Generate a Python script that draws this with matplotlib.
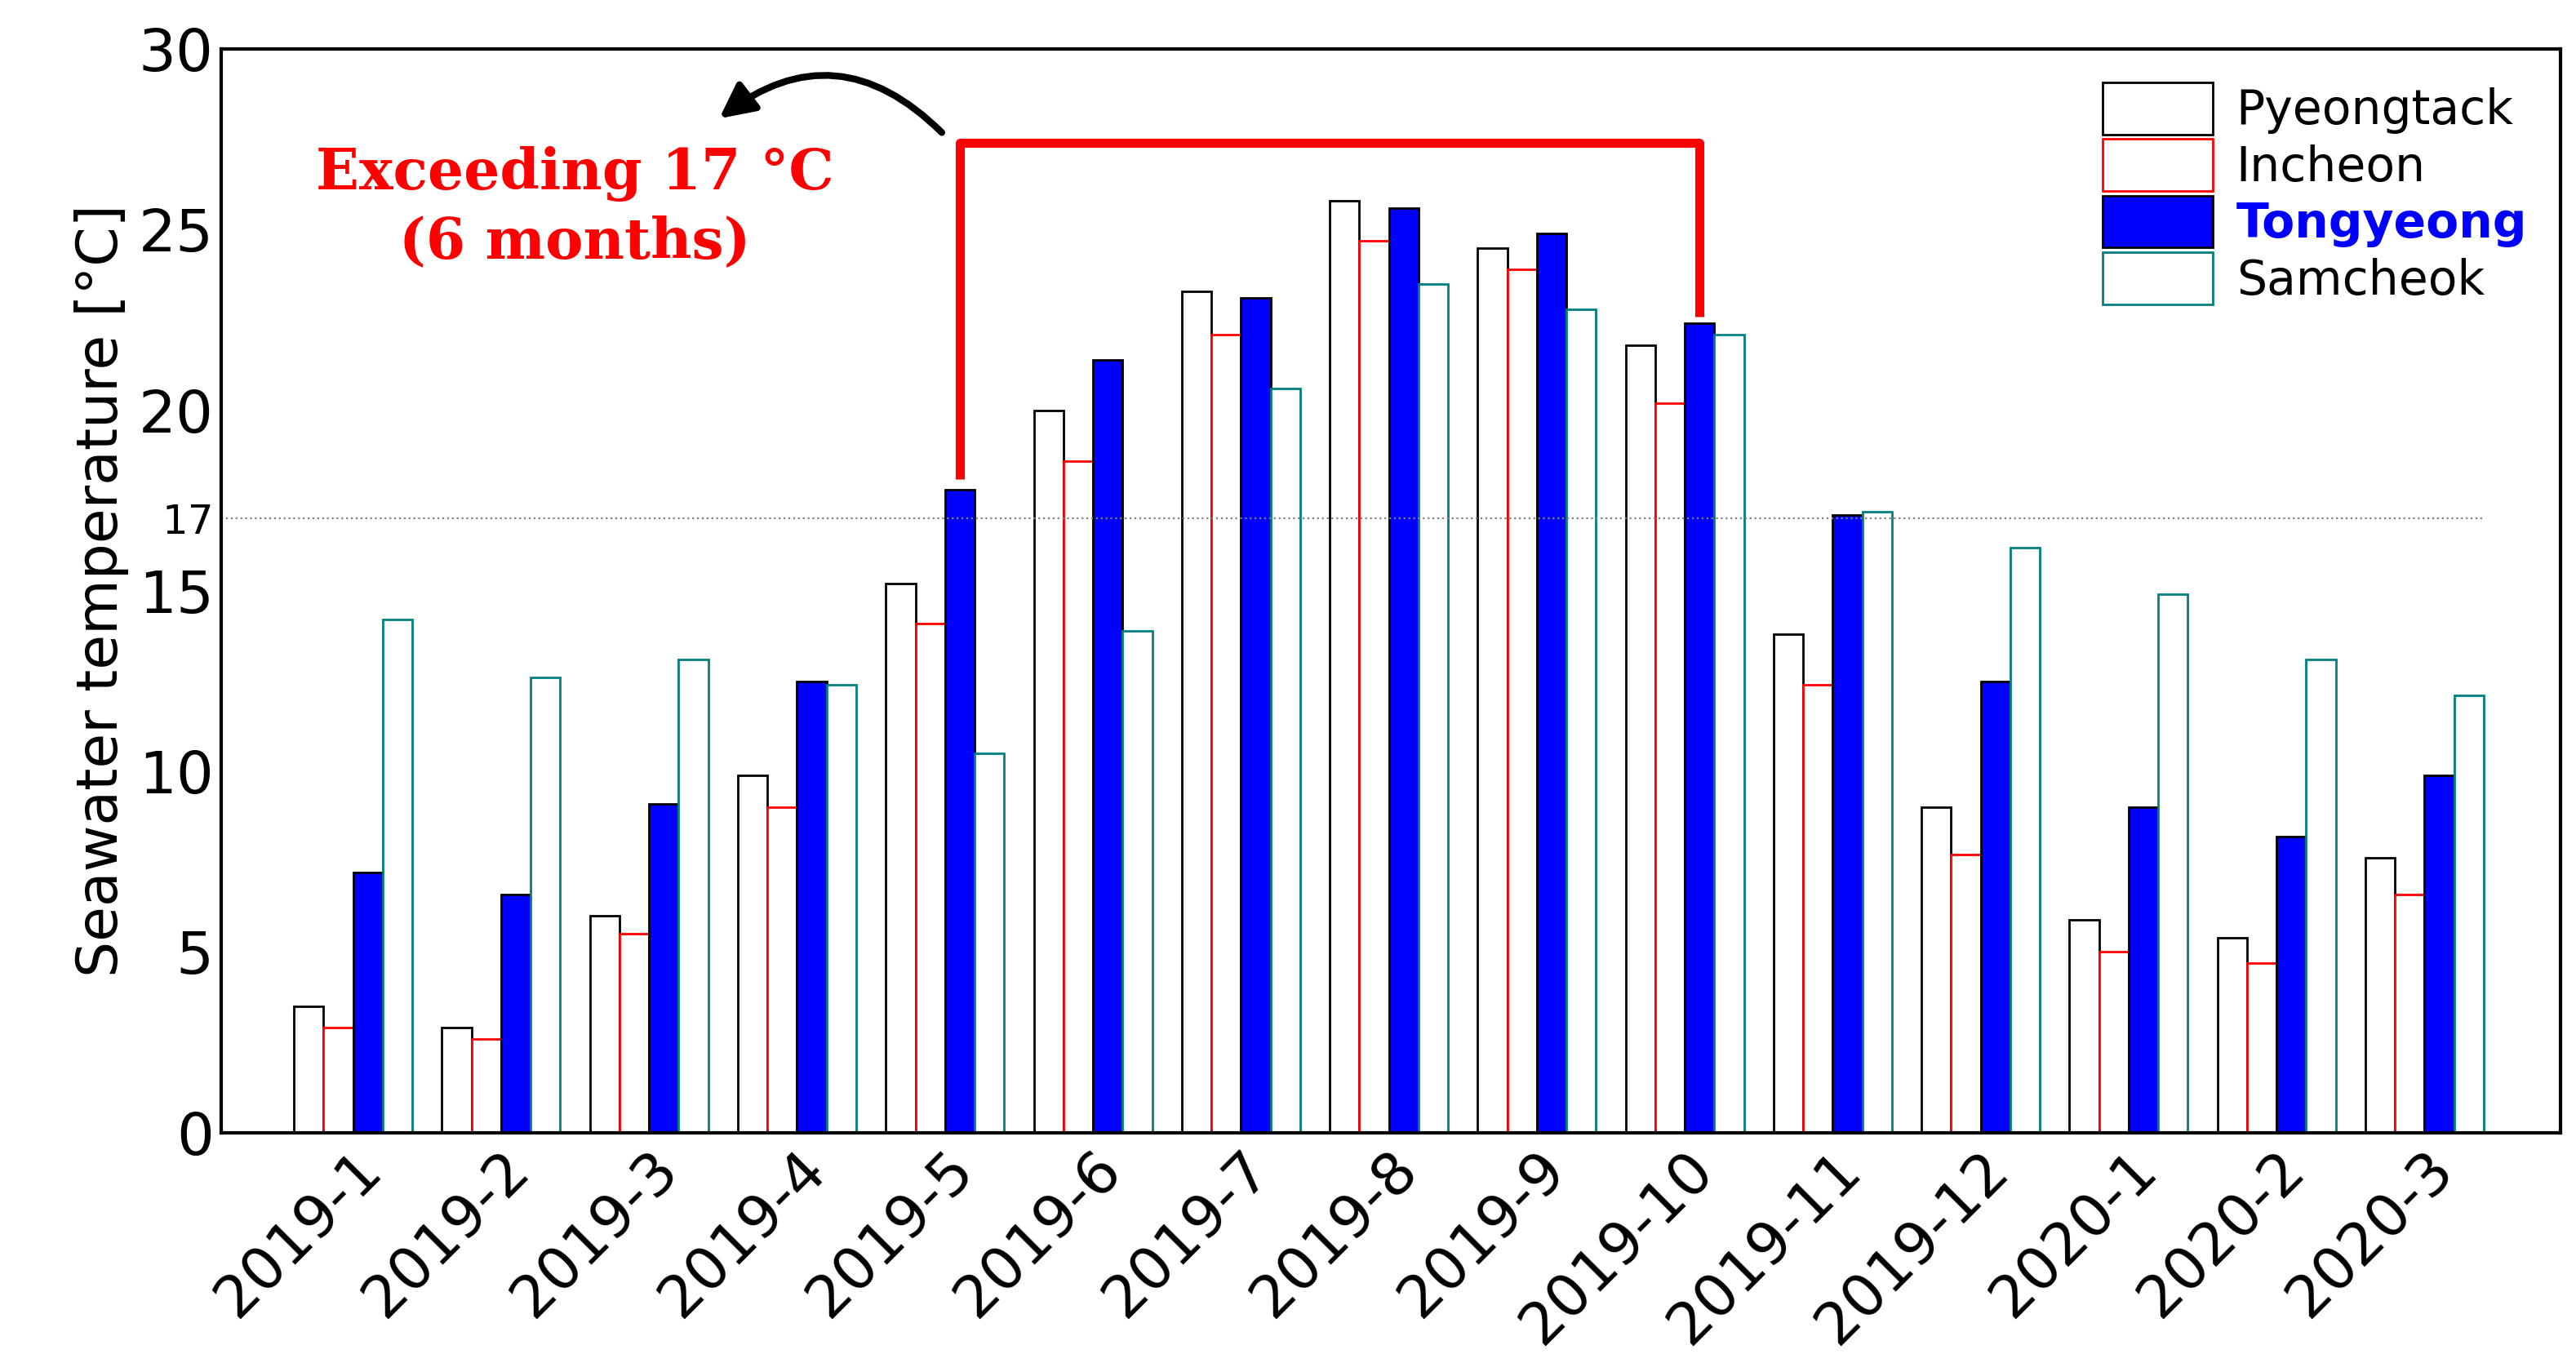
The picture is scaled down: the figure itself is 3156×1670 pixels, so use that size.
import numpy as np
import matplotlib.pyplot as plt

months = ["2019-1", "2019-2", "2019-3", "2019-4", "2019-5", "2019-6", "2019-7", "2019-8",
          "2019-9", "2019-10", "2019-11", "2019-12", "2020-1", "2020-2", "2020-3"]
pyeongtack = [3.5, 2.9, 6.0, 9.9, 15.2, 20.0, 23.3, 25.8, 24.5, 21.8, 13.8, 9.0, 5.9, 5.4, 7.6]
incheon = [2.9, 2.6, 5.5, 9.0, 14.1, 18.6, 22.1, 24.7, 23.9, 20.2, 12.4, 7.7, 5.0, 4.7, 6.6]
tongyeong = [7.2, 6.6, 9.1, 12.5, 17.8, 21.4, 23.1, 25.6, 24.9, 22.4, 17.1, 12.5, 9.0, 8.2, 9.9]
samcheok = [14.2, 12.6, 13.1, 12.4, 10.5, 13.9, 20.6, 23.5, 22.8, 22.1, 17.2, 16.2, 14.9, 13.1, 12.1]

fig = plt.figure(figsize=(15.78, 8.35), dpi=200)
ax = fig.add_axes([0.086, 0.169, 0.908, 0.795])
x = np.arange(len(months))
w = 0.2
ax.bar(x - 0.3, pyeongtack, w, facecolor="white", edgecolor="black", lw=1, label="Pyeongtack")
ax.bar(x - 0.1, incheon, w, facecolor="white", edgecolor="red", lw=1, label="Incheon")
ax.bar(x + 0.1, tongyeong, w, facecolor="blue", edgecolor="black", lw=1, label="Tongyeong")
ax.bar(x + 0.3, samcheok, w, facecolor="white", edgecolor="teal", lw=1, label="Samcheok")

ax.plot([-0.89, 14.4], [17, 17], color="gray", ls=":", lw=0.8)

# bracket over the months above 17 C
ax.plot([4.1, 4.1, 9.1, 9.1], [18.1, 27.4, 27.4, 22.6], color="red", lw=4, solid_capstyle="butt")
ax.annotate("", xy=(2.45, 28.0), xytext=(4.0, 27.6),
            arrowprops=dict(arrowstyle="-|>", color="black", lw=3, mutation_scale=32,
                            connectionstyle="arc3,rad=0.45"))
ax.text(1.5, 25.6, "Exceeding 17 \u00b0C\n(6 months)", color="red", fontsize=25, fontweight="bold",
        family="DejaVu Serif", ha="center", va="center", linespacing=1.3)

ax.set_xlim(-0.89, 14.92)
ax.set_ylim(0, 30)
ax.set_yticks([0, 5, 10, 15, 17, 20, 25, 30])
ax.set_yticklabels(["0", "5", "10", "15", "17", "20", "25", "30"])
ax.set_xticks(x)
ax.set_xticklabels(months, rotation=45, ha="right", rotation_mode="anchor")
ax.tick_params(axis="both", labelsize=26, direction="in", length=0)
for t in ax.get_yticklabels():
    if t.get_text() == "17":
        t.set_fontsize(18)
ax.set_ylabel("Seawater temperature [\u00b0C]", fontsize=25)
for s in ax.spines.values():
    s.set_linewidth(1.5)

leg = ax.legend(loc="upper right", fontsize=21, frameon=False, handlelength=2.3, handleheight=1.3,
                labelspacing=0.1, borderaxespad=0.3, handletextpad=0.5)
leg.get_texts()[2].set_color("blue")
leg.get_texts()[2].set_fontweight("bold")

fig.savefig("out.png", dpi=200)
